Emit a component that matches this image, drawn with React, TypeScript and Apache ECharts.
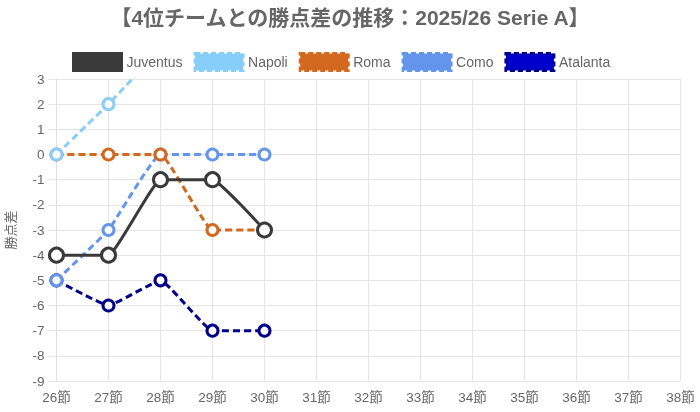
import React, { useEffect, useRef } from "react";
import * as echarts from "echarts";

const TITLE = "【4位チームとの勝点差の推移：2025/26 Serie A】";
const Y_NAME = "勝点差";
const rounds = ["26節", "27節", "28節", "29節", "30節", "31節", "32節", "33節", "34節", "35節", "36節", "37節", "38節"];
const teams = ["Juventus", "Napoli", "Roma", "Como", "Atalanta"];
const juventus = [-4, -4, -1, -1, -3];
const napoli = [0, 2, 4, 4, 4];
const roma = [0, 0, 0, -3, -3];
const como = [-5, -3, 0, 0, 0];
const atalanta = [-5, -6, -5, -7, -7];
const lineColors = ["#3a3a3a", "#87CEFA", "#D2691E", "#6495ED", "#00008B"];
const fillColors = ["#3a3a3a", "#87CEFA", "#D2691E", "#6495ED", "#0000CD"];
const values = [juventus, napoli, roma, como, atalanta];
const Y_MIN = -9;
const Y_MAX = 3;

const FONT = "'Liberation Sans', Arial, 'Noto Sans CJK JP', sans-serif";

export default function App() {
  const ref = useRef<HTMLDivElement>(null);
  useEffect(() => {
    if (!ref.current) return;
    const chart = echarts.init(ref.current, null, { renderer: "svg" });
    const gridCount = Y_MAX - Y_MIN + 1;
    const splitColors: string[] = [];
    for (let i = 0; i < gridCount; i++) {
      splitColors.push(Y_MIN + i === 0 ? "#b8b8b8" : "#e5e5e5");
    }
    chart.setOption({
      animation: false,
      textStyle: { fontFamily: FONT },
      title: {
        text: TITLE,
        left: "center",
        top: 2,
        textStyle: { fontSize: 21, fontWeight: "bold", color: "#666", fontFamily: FONT },
      },
      legend: {
        top: 47,
        left: 67,
        itemWidth: 48,
        itemHeight: 17,
        itemGap: 11,
        textStyle: { color: "#666", fontSize: 14, fontFamily: FONT },
        data: teams.map((t, i) => ({
          name: t,
          icon: "rect",
          itemStyle: {
            color: fillColors[i],
            borderColor: lineColors[i],
            borderWidth: 3,
            borderType: i === 0 ? "solid" : [5, 3],
          },
        })),
      },
      grid: {
        left: 56.5,
        right: 19.5,
        top: 79,
        bottom: 31,
        containLabel: false,
        outerBoundsMode: "none",
      },
      xAxis: {
        type: "category",
        data: rounds,
        boundaryGap: false,
        axisLine: { show: true, lineStyle: { color: "#e0e0e0" } },
        axisTick: { show: true, length: 7, lineStyle: { color: "#e5e5e5" } },
        axisLabel: { color: "#666", fontSize: 13.5, margin: 10, fontFamily: FONT },
        splitLine: { show: true, lineStyle: { color: "#e5e5e5" } },
      },
      yAxis: {
        type: "value",
        min: Y_MIN,
        max: Y_MAX,
        interval: 1,
        name: Y_NAME,
        nameLocation: "middle",
        nameGap: 40,
        nameRotate: 90,
        nameTextStyle: { color: "#666", fontSize: 13, fontFamily: FONT },
        axisLine: { show: true, lineStyle: { color: "#e0e0e0" } },
        axisTick: { show: true, length: 8, lineStyle: { color: "#e5e5e5" } },
        axisLabel: { color: "#666", fontSize: 13.5, margin: 12, fontFamily: FONT },
        splitLine: { show: true, lineStyle: { color: splitColors } },
      },
      series: teams.map((t, i) => ({
        name: t,
        type: "line",
        data: values[i],
        smooth: 0.1,
        clip: true,
        symbol: "circle",
        symbolSize: i === 0 ? 14 : 11,
        showSymbol: true,
        lineStyle: {
          color: lineColors[i],
          width: 3,
          type: i === 0 ? "solid" : [7, 4],
        },
        itemStyle: {
          color: "#fff",
          borderColor: lineColors[i],
          borderWidth: 3,
        },
        z: 10 - i,
      })),
    });
    return () => chart.dispose();
  }, []);
  return (
    <div
      ref={ref}
      style={{ position: "fixed", left: 0, top: 0, width: 700, height: 412 }}
    />
  );
}
